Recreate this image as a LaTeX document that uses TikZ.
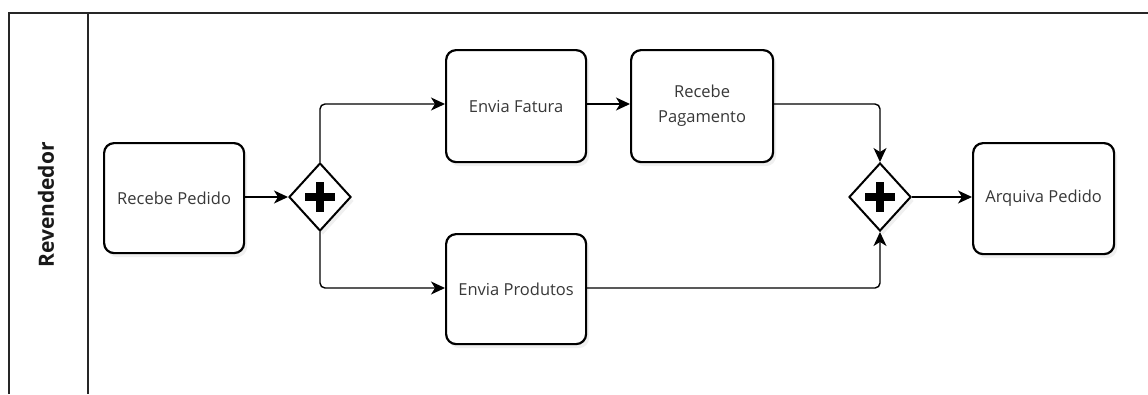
\documentclass[tikz,border=0pt]{standalone}
\usepackage{fontspec}
\setmainfont{Open Sans}
\usetikzlibrary{shapes.geometric,arrows.meta,shadows,calc}
\begin{document}
\begin{tikzpicture}[x=1pt,y=-1pt,
  task/.style={draw=black,line width=2.2pt,rounded corners=10pt,fill=white,
    minimum width=140pt,minimum height=111pt,inner sep=2pt,align=center,
    text=black!78,font=\fontsize{16.5}{25}\selectfont,
    drop shadow={opacity=0.12,shadow xshift=3pt,shadow yshift=-4pt}},
  gate/.style={draw=black,line width=2pt,shape=diamond,fill=white,
    minimum width=62pt,minimum height=68pt,inner sep=0pt,
    drop shadow={opacity=0.12,shadow xshift=3pt,shadow yshift=-4pt}},
  flow/.style={line width=1.4pt,rounded corners=5pt,
    -{Stealth[length=14pt,width=13pt,inset=4pt]}},
  pool/.style={line width=1.4pt,draw=black!85}]
\useasboundingbox (0,0) rectangle (1148,394);
% pool
\draw[pool] (9,394) -- (9,13) -- (1148,13);
\draw[pool] (88,13) -- (88,394);
\node[rotate=90,font=\bfseries\fontsize{21}{25}\selectfont,text=black!90] (lane) at (46,205) {Revendedor};
% tasks
\node[task,anchor=north west,minimum width=140pt,minimum height=110pt] (rp) at (103,142) {Recebe Pedido};
\node[task,anchor=north west,minimum width=140pt,minimum height=112pt] (ef) at (445,49) {Envia Fatura};
\node[task,anchor=north west,minimum width=142pt,minimum height=112pt] (pg) at (630,49) {Recebe\\Pagamento};
\node[task,anchor=north west,minimum width=140pt,minimum height=110pt] (ep) at (445,233) {Envia Produtos};
\node[task,anchor=north west,minimum width=141pt,minimum height=111pt] (ap) at (972,142) {Arquiva Pedido};
% gateways
\node[gate] (g1) at (320,197) {};
\node[gate] (g2) at (880,197) {};
\foreach \g in {g1,g2}{
  \fill[black] ($(\g)+(-15,-4)$) rectangle ($(\g)+(15,4)$);
  \fill[black] ($(\g)+(-4,-15)$) rectangle ($(\g)+(4,15)$);
}
% flows
\draw[flow] (rp.east |- 0,197) -- (g1.west);
\draw[flow] (g1.north) |- (ef.west |- 0,104);
\draw[flow] (g1.south) |- (ep.west |- 0,288);
\draw[flow] (ef.east |- 0,104) -- (pg.west |- 0,104);
\draw[flow] (pg.east |- 0,104) -| (g2.north);
\draw[flow] (ep.east |- 0,288) -| (g2.south);
\draw[flow] (g2.east) -- (ap.west |- 0,197);
\end{tikzpicture}
\end{document}
